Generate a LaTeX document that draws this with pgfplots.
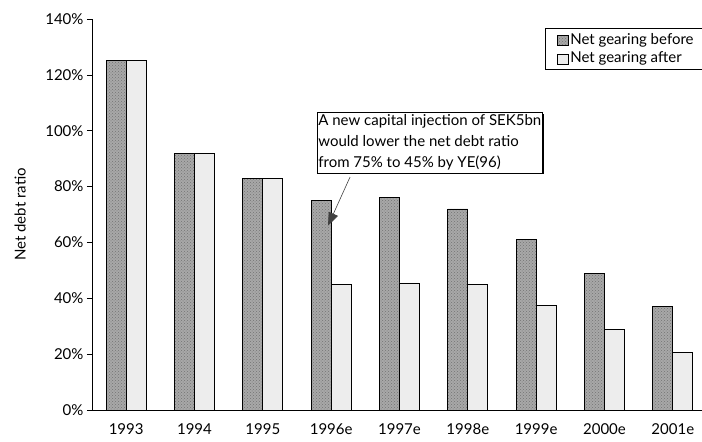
\documentclass[border=0pt]{standalone}
\usepackage{fontspec}
\setmainfont{Lato}
\usepackage{pgfplots}
\usepackage{pgfplotstable}
\pgfplotsset{compat=1.18}
\usetikzlibrary{arrows.meta,shadows,patterns}

% Net gearing (net debt / equity, %) before and after the capital injection
\pgfplotstableread{
x before after
0 125 125
1 92 92
2 83 83
3 75 45
4 76 45.5
5 72 45
6 61 37.5
7 49 29
8 37 20.5
}\gearing

\definecolor{darkbar}{gray}{0.66}
\definecolor{lightbar}{gray}{0.93}

\begin{document}
\begin{tikzpicture}[font=\fontsize{15}{17}\selectfont]
\useasboundingbox (-92pt,-32pt) rectangle (610pt,410pt);
\begin{axis}[
  at={(0pt,0pt)}, anchor=south west,
  scale only axis, width=615pt, height=391pt,
  xmin=-0.5, xmax=8.5, ymin=0, ymax=140,
  axis x line=bottom, axis y line=left,
  axis line style={-, line width=0.8pt},
  ybar=0pt, bar width=20pt,
  /pgf/number format/assume math mode=true,
  xtick={0,...,8},
  xticklabels={1993,1994,1995,1996e,1997e,1998e,1999e,2000e,2001e},
  x tick label style={yshift=-5pt},
  major x tick style={draw=none},
  extra x ticks={0.5,1.5,...,7.5},
  extra x tick labels={},
  extra x tick style={major tick length=10pt, tick align=center,
    tick style={draw=black, line width=0.6pt}},
  ytick={0,20,...,140},
  yticklabel={\pgfmathprintnumber{\tick}\%},
  y tick style={draw=black, line width=0.6pt},
  ytick align=outside, major tick length=5pt,
  ylabel={Net debt ratio},
  ylabel style={font=\fontsize{14}{16}\selectfont},
  every axis y label/.style={at={(axis description cs:-0.117,0.5)}, rotate=90, anchor=center},
  legend style={at={(axis description cs:0.7366,0.9770)}, anchor=north west,
    draw=black, line width=0.6pt, inner xsep=12pt, inner ysep=3pt, row sep=2pt,
    font=\fontsize{15}{17}\selectfont,
    nodes={inner xsep=1.5pt}},
  legend cell align=left,
  legend image code/.code={\draw[#1, line width=0.5pt] (0pt,-6pt) rectangle (11pt,4pt);},
]
\addplot[fill=darkbar, draw=black, line width=0.8pt,
  postaction={pattern=crosshatch dots, pattern color=black!55}]
  table[x=x, y=before] {\gearing};
\addlegendentry{Net gearing before}
\addplot[fill=lightbar, draw=black, line width=0.8pt]
  table[x=x, y=after] {\gearing};
\addlegendentry{Net gearing after}

\node[draw=black, line width=0.6pt, fill=white, align=left, anchor=north west,
      inner xsep=1pt, inner ysep=2.5pt,
      drop shadow={shadow xshift=1.5pt, shadow yshift=-1.5pt, fill=black, opacity=1},
      font=\fontsize{15}{21}\selectfont]
  at (axis description cs:0.3659,0.7621)
  {A new capital injection of SEK5bn\\would lower the net debt ratio\\from 75\% to 45\% by YE(96)};
\draw[black!75, line width=0.6pt, -{Triangle[length=13pt,width=10pt]}]
  (axis cs:3.276,83.4) -- (axis cs:2.954,66);
\end{axis}
\end{tikzpicture}
\end{document}
